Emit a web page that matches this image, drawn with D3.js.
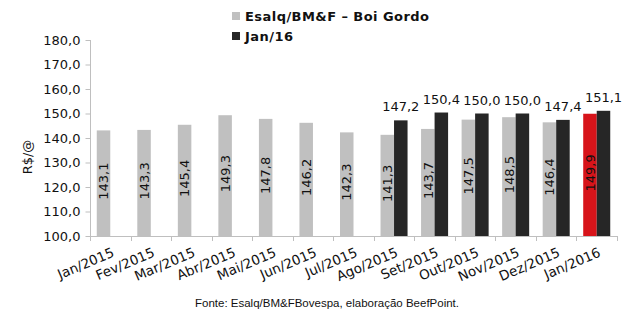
<!DOCTYPE html>
<html>
<head>
<meta charset="utf-8">
<script src="https://cdn.jsdelivr.net/npm/d3@7"></script>
<style>
  html, body { margin: 0; padding: 0; background: #fff; }
  svg { display: block; }
  text { font-family: "DejaVu Sans", Verdana, sans-serif; }
</style>
</head>
<body>
<svg id="chart" width="633" height="327"></svg>
<script>
// Boi Gordo indicator (Esalq/BM&F), R$/@
const months = ["Jan/2015", "Fev/2015", "Mar/2015", "Abr/2015", "Mai/2015", "Jun/2015", "Jul/2015",
                "Ago/2015", "Set/2015", "Out/2015", "Nov/2015", "Dez/2015", "Jan/2016"];
const spotValues = [143.1, 143.3, 145.4, 149.3, 147.8, 146.2, 142.3, 141.3, 143.7, 147.5, 148.5, 146.4, 149.9];
// January 2016 futures contract, quoted from August 2015 onwards
const futureValues = [null, null, null, null, null, null, null, 147.2, 150.4, 150.0, 150.0, 147.4, 151.1];
const yTicks = [100, 110, 120, 130, 140, 150, 160, 170, 180];
const legendLabels = ["Esalq/BM&F \u2013 Boi Gordo", "Jan/16"];
const yTitle = "R$/@";
const sourceNote = "Fonte: Esalq/BM&FBovespa, elaboração BeefPoint.";

const colSpot = "#c0c0c0", colFuture = "#262626", colHighlight = "#d7141a";
const fmt = v => d3.format(".1f")(v).replace(".", ",");

const svg = d3.select("#chart");
const plotLeft = 90, plotRight = 617, plotTop = 40, plotBottom = 236;

const x = d3.scaleBand().domain(months).range([plotLeft, plotRight]).paddingInner(0).paddingOuter(0);
const bw = x.bandwidth();
const sub = d3.scaleBand().domain(["spot", "future"]).range([bw / 6, bw * 5 / 6]).padding(0);
const y = d3.scaleLinear().domain([100, 180]).range([plotBottom, plotTop]);

// y axis
const yAxis = svg.append("g").attr("transform", `translate(${plotLeft + 0.5},0)`)
  .call(d3.axisLeft(y).tickValues(yTicks).tickFormat(fmt).tickSize(5).tickPadding(5));
yAxis.select(".domain").attr("stroke", "#bfbfbf").attr("d", `M0,${plotBottom}V${plotTop}`);
yAxis.selectAll(".tick line").attr("stroke", "#bfbfbf");
yAxis.selectAll(".tick text").attr("font-size", 13).attr("fill", "#111")
  .style("font-family", "'DejaVu Sans', Verdana, sans-serif");

// x axis with ticks on the category boundaries
const xg = svg.append("g");
xg.append("line").attr("x1", plotLeft).attr("x2", plotRight).attr("y1", plotBottom + 0.5).attr("y2", plotBottom + 0.5)
  .attr("stroke", "#bfbfbf");
const bounds = months.map(m => x(m)).concat([plotRight]);
xg.selectAll("line.tk").data(bounds).join("line").attr("class", "tk")
  .attr("x1", d => Math.round(d) + 0.5).attr("x2", d => Math.round(d) + 0.5)
  .attr("y1", plotBottom).attr("y2", plotBottom + 5).attr("stroke", "#bfbfbf");
xg.selectAll("text").data(months).join("text")
  .attr("transform", d => `translate(${x(d) + bw / 2 + 1},${plotBottom + 11}) rotate(-23)`)
  .attr("text-anchor", "end").attr("dy", "0.72em")
  .attr("font-size", 13.5).attr("fill", "#111").text(d => d);

// spot bars
const spot = svg.append("g");
spot.selectAll("rect").data(months).join("rect")
  .attr("x", d => x(d) + sub("spot"))
  .attr("width", sub.bandwidth())
  .attr("y", (d, i) => y(spotValues[i]))
  .attr("height", (d, i) => y(100) - y(spotValues[i]))
  .attr("fill", (d, i) => i === months.length - 1 ? colHighlight : colSpot);

spot.selectAll("text").data(months).join("text")
  .attr("transform", (d, i) => {
    const cx = x(d) + sub("spot") + sub.bandwidth() / 2;
    const cy = (y(spotValues[i]) + y(100)) / 2 - 2;
    return `translate(${cx},${cy}) rotate(-90)`;
  })
  .attr("text-anchor", "middle").attr("dy", "0.36em")
  .attr("font-size", 13).attr("fill", "#111")
  .text((d, i) => fmt(spotValues[i]));

// futures bars
const futData = months.map((m, i) => ({ m, v: futureValues[i] })).filter(d => d.v !== null);
const fut = svg.append("g");
fut.selectAll("rect").data(futData).join("rect")
  .attr("x", d => x(d.m) + sub("future"))
  .attr("width", sub.bandwidth())
  .attr("y", d => y(d.v))
  .attr("height", d => y(100) - y(d.v))
  .attr("fill", colFuture);
fut.selectAll("text").data(futData).join("text")
  .attr("x", d => x(d.m) + sub("future") + sub.bandwidth() / 2)
  .attr("y", d => y(d.v) - 9)
  .attr("text-anchor", "middle")
  .attr("font-size", 13).attr("fill", "#111")
  .text(d => fmt(d.v));

// legend
const legend = svg.append("g");
[colSpot, colFuture].forEach((c, i) => {
  legend.append("rect").attr("x", 232).attr("y", 12 + i * 20).attr("width", 8).attr("height", 8).attr("fill", c);
  legend.append("text").attr("x", 245).attr("y", 20.5 + i * 20)
    .attr("font-size", 13).attr("font-weight", "bold").attr("fill", "#111")
    .attr("letter-spacing", "0.45px").style("white-space", "pre")
    .text(legendLabels[i]);
});

// y title
svg.append("text").attr("transform", "translate(27,157) rotate(-90)")
  .attr("text-anchor", "middle").attr("dy", "0.36em")
  .attr("font-size", 13).attr("fill", "#111").text(yTitle);

// source
svg.append("text").attr("x", 327).attr("y", 307).attr("text-anchor", "middle")
  .style("font-family", "'Liberation Sans', Arial, sans-serif")
  .attr("font-size", 11.5).attr("fill", "#111").text(sourceNote);
</script>
</body>
</html>
